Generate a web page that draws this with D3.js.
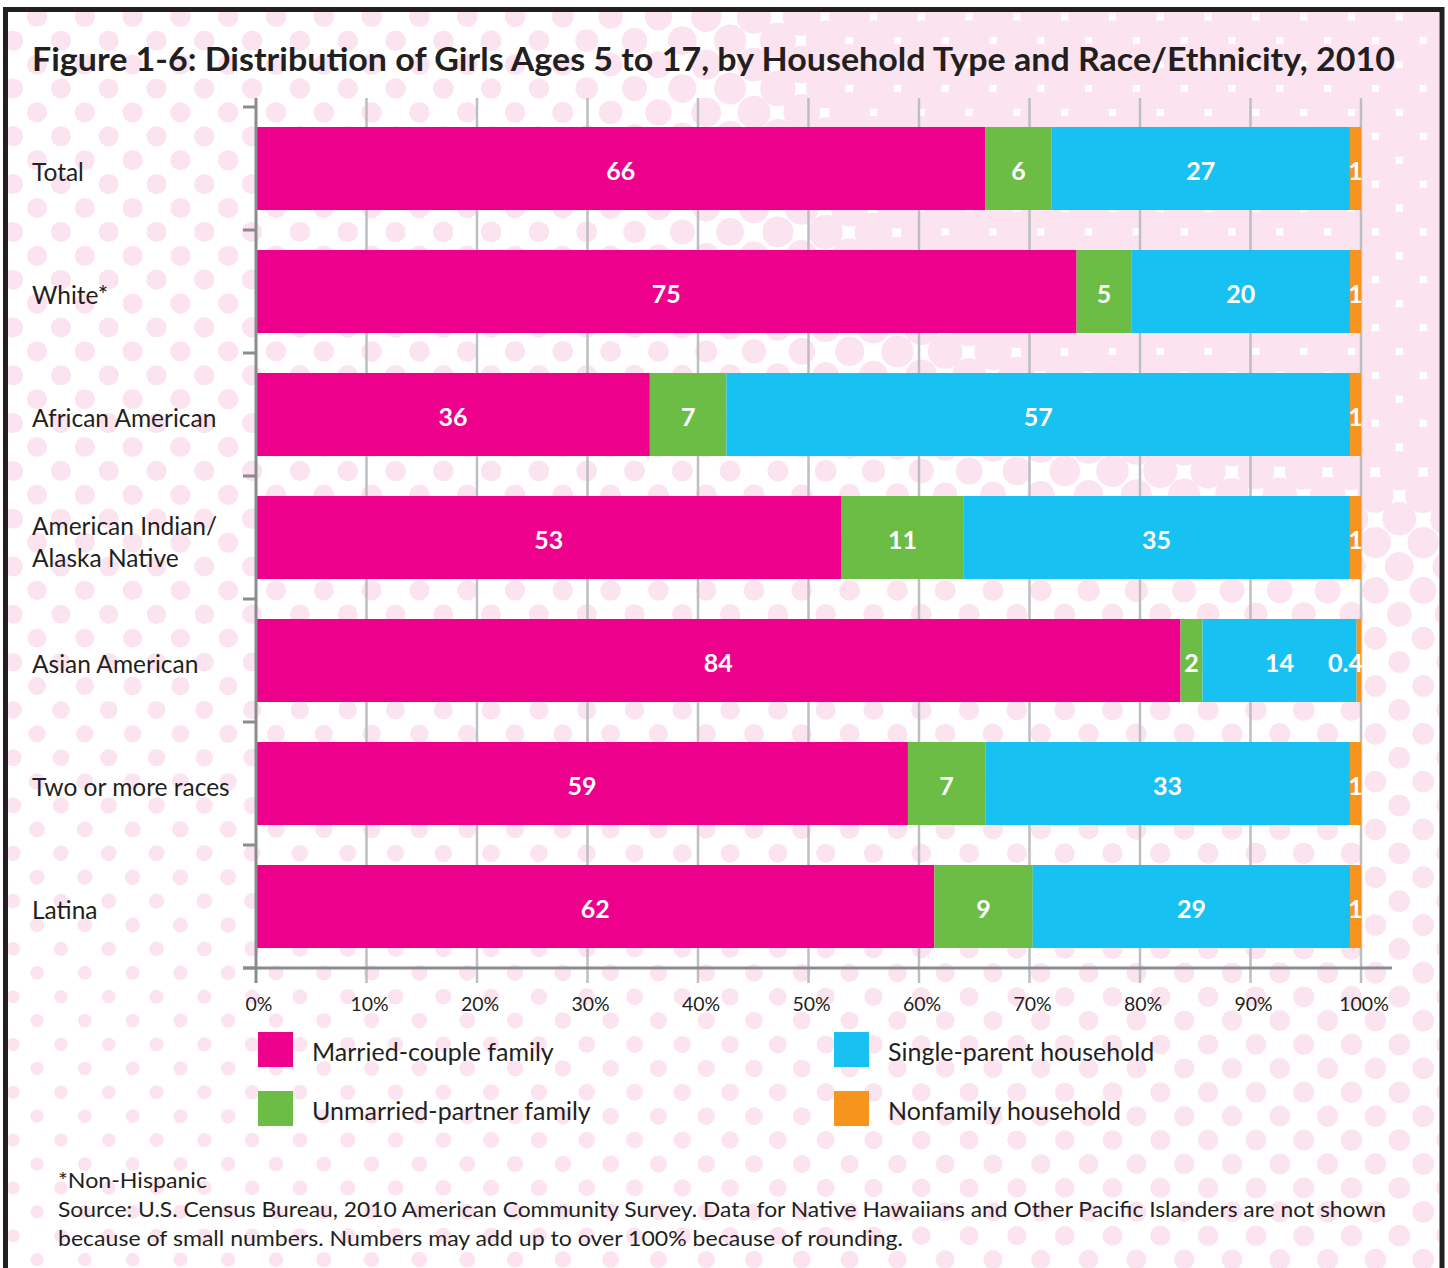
<!DOCTYPE html>
<html>
<head>
<meta charset="utf-8">
<script src="https://cdn.jsdelivr.net/npm/d3@7"></script>
<style>
  html, body { margin: 0; padding: 0; background: #fff; }
  svg { display: block; }
  text { font-family: Lato, "Noto Sans", sans-serif; fill: #231f20; }
</style>
</head>
<body>
<svg id="chart" width="1448" height="1268"></svg>
<script>
// chart data
const categories = ["Total", "White*", "African American", "American Indian/Alaska Native",
                    "Asian American", "Two or more races", "Latina"];
const seriesNames = ["Married-couple family", "Unmarried-partner family",
                     "Single-parent household", "Nonfamily household"];
const married      = [66, 75, 36, 53, 84, 59, 62];
const unmarried    = [6, 5, 7, 11, 2, 7, 9];
const singleParent = [27, 20, 57, 35, 14, 33, 29];
const nonfamily    = [1, 1, 1, 1, 0.4, 1, 1];
const tickValues = [0, 0.1, 0.2, 0.3, 0.4, 0.5, 0.6, 0.7, 0.8, 0.9, 1];
const colors = ["#ec008c", "#6cbd45", "#17c1f1", "#f7941d"];

const title = "Figure 1-6: Distribution of Girls Ages 5 to 17, by Household Type and Race/Ethnicity, 2010";
const notes = [
  "*Non-Hispanic",
  "Source: U.S. Census Bureau, 2010 American Community Survey. Data for Native Hawaiians and Other Pacific Islanders are not shown",
  "because of small numbers. Numbers may add up to over 100% because of rounding."
];
const noteWidths = [149, 1328, 845];

const keys = ["married", "unmarried", "singleParent", "nonfamily"];
const table = categories.map((c, i) => ({
  category: c,
  married: married[i],
  unmarried: unmarried[i],
  singleParent: singleParent[i],
  nonfamily: nonfamily[i]
}));

const width = 1448, height = 1268;
const svg = d3.select("#chart");

// ---- halftone background ----
svg.append("clipPath").attr("id", "frameClip")
  .append("rect").attr("x", 8).attr("y", 12).attr("width", 1431).attr("height", height - 12);

function dotRadius(px, py) {
  const h = px / width;
  const v = Math.max(0, Math.min(1, (py - 550) / 450));
  const base = 10 - 3.5 * v * (1 - h) + 1 * h;
  const u = Math.sqrt(Math.pow((1440 - px) / 860, 2) + Math.pow((py - 12) / 620, 2));
  const t = Math.max(0, Math.min(1, (1.05 - u) / 0.45));
  return Math.min(20.5, base + 14 * Math.pow(t, 1.3));
}

const dots = [];
const pitch = 23.9;
for (let k = -40; k <= 15; k++) {
  for (let i = -2; i <= 62; i++) {
    if ((i + k) % 2 !== 0) continue;
    const px = 37 + pitch * i, py = 925 + pitch * k;
    dots.push({x: px, y: py, r: dotRadius(px, py)});
  }
}

svg.append("g").attr("clip-path", "url(#frameClip)")
  .selectAll("circle").data(dots).join("circle")
  .attr("cx", d => d.x).attr("cy", d => d.y).attr("r", d => d.r)
  .attr("fill", "#fbe4f0");

// frame
svg.append("rect")
  .attr("x", 5.5).attr("y", 9.5).attr("width", 1436.5).attr("height", 1300)
  .attr("fill", "none").attr("stroke", "#231f20").attr("stroke-width", 5);

// ---- scales ----
const x = d3.scaleLinear().domain([0, 1]).range([256, 1361]);
const y = d3.scaleBand().domain(categories).range([107, 968])
  .paddingInner(0.325).paddingOuter(0.1625);

const stack = d3.stack().keys(keys).offset(d3.stackOffsetExpand);
const series = stack(table);

// title
svg.append("text")
  .attr("x", 32).attr("y", 71)
  .style("font-size", "32px").style("font-weight", 700)
  .attr("textLength", 1363).attr("lengthAdjust", "spacingAndGlyphs")
  .text(title);

// gridlines
const gridTop = 98, gridBottom = 983;
svg.append("g").selectAll("line")
  .data(tickValues.filter(d => d > 0)).join("line")
  .attr("x1", d => x(d)).attr("x2", d => x(d))
  .attr("y1", gridTop).attr("y2", gridBottom)
  .attr("stroke", "#bcbec0").attr("stroke-width", 2.5);

// bars
const layer = svg.append("g").selectAll("g")
  .data(series).join("g")
  .attr("fill", (d, i) => colors[i]);

layer.selectAll("rect")
  .data(d => d.map(s => ({s, key: d.key})))
  .join("rect")
  .attr("x", d => x(d.s[0]))
  .attr("y", d => y(d.s.data.category))
  .attr("width", d => x(d.s[1]) - x(d.s[0]))
  .attr("height", y.bandwidth());

// axes
const axisColor = "#8a8c8e";
const boundaries = categories.map(c => y(c) - y.step() * y.paddingInner() / 2)
  .concat([y.range()[1]]);
svg.append("g").selectAll("line")
  .data(boundaries).join("line")
  .attr("x1", 243).attr("x2", x(0))
  .attr("y1", d => d).attr("y2", d => d)
  .attr("stroke", axisColor).attr("stroke-width", 3);
svg.append("line")
  .attr("x1", x(0)).attr("x2", x(0)).attr("y1", gridTop).attr("y2", gridBottom)
  .attr("stroke", axisColor).attr("stroke-width", 3);
svg.append("line")
  .attr("x1", 243).attr("x2", 1392).attr("y1", y.range()[1]).attr("y2", y.range()[1])
  .attr("stroke", axisColor).attr("stroke-width", 3);

// tick labels
svg.append("g").selectAll("text")
  .data(tickValues).join("text")
  .attr("x", d => x(d) + 3).attr("y", 1011)
  .attr("text-anchor", "middle")
  .style("font-size", "19.5px")
  .text(d => d3.format(".0%")(d));

// value labels
const labels = svg.append("g");
series.forEach(s => {
  s.forEach(seg => {
    const val = seg.data[s.key];
    const t = labels.append("text")
      .attr("text-anchor", "middle")
      .attr("y", y(seg.data.category) + y.bandwidth() / 2 + 11)
      .style("font-size", "25px").style("font-weight", 700)
      .style("fill", "#fff")
      .text(val);
    const w = t.node().getComputedTextLength();
    const cx = Math.min((x(seg[0]) + x(seg[1])) / 2, x(1) + 2 - w / 2);
    t.attr("x", cx);
  });
});

// category labels
svg.append("g").selectAll("text")
  .data(categories).join("text")
  .attr("x", 32)
  .attr("y", d => y(d) + y.bandwidth() / 2 + (d.indexOf("/") >= 0 ? -3 : 12))
  .style("font-size", "24.5px")
  .each(function(d) {
    const parts = d.indexOf("/") >= 0 ? [d.slice(0, d.indexOf("/") + 1), d.slice(d.indexOf("/") + 1)] : [d];
    d3.select(this).selectAll("tspan").data(parts).join("tspan")
      .attr("x", 32).attr("dy", (p, i) => i === 0 ? 0 : 32.5)
      .text(p => p);
  });

// legend
const legendPos = [[258, 1032], [258, 1091], [834, 1032], [834, 1091]];
const legend = svg.append("g").selectAll("g")
  .data(seriesNames).join("g")
  .attr("transform", (d, i) => `translate(${legendPos[i][0]},${legendPos[i][1]})`);
legend.append("rect")
  .attr("width", 35).attr("height", 35)
  .attr("fill", (d, i) => colors[i]);
legend.append("text")
  .attr("x", 54).attr("y", 29)
  .style("font-size", "25px")
  .text(d => d);

// notes
svg.append("g").selectAll("text")
  .data(notes).join("text")
  .attr("x", 58).attr("y", (d, i) => 1188 + i * 29)
  .style("font-size", "21.5px")
  .attr("textLength", (d, i) => noteWidths[i])
  .attr("lengthAdjust", "spacingAndGlyphs")
  .text(d => d);
</script>
</body>
</html>
